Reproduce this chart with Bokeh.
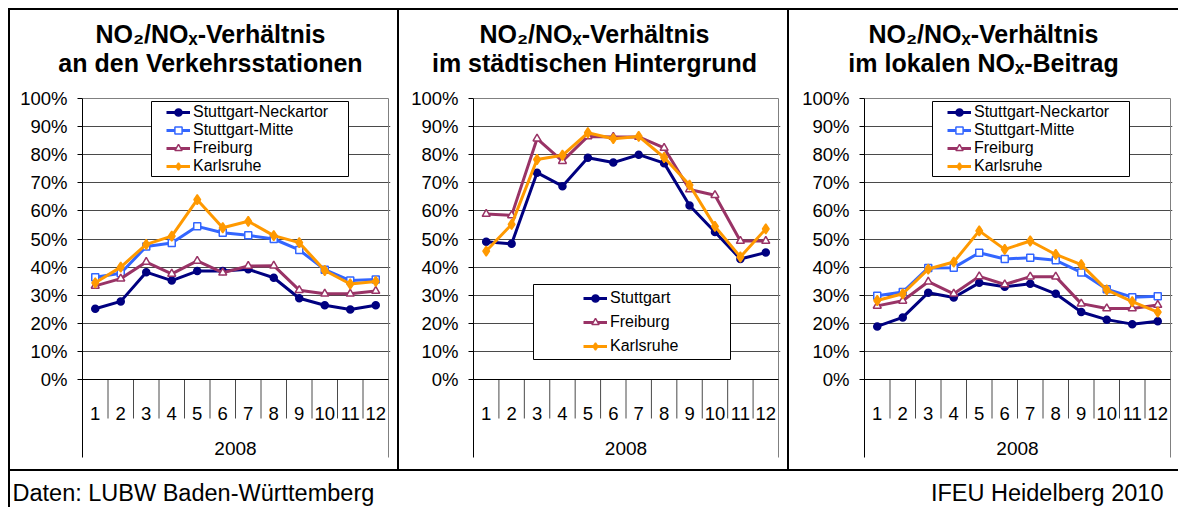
from bokeh.plotting import figure
from bokeh.models import (Range1d, FixedTicker, PrintfTickFormatter, Legend, LegendItem,
                          BoxAnnotation, Div)
from bokeh.layouts import row, column
from bokeh.embed import file_html
from bokeh.resources import INLINE
from bokeh.core.properties import value

# ---------------- data ----------------
months = [1, 2, 3, 4, 5, 6, 7, 8, 9, 10, 11, 12]
month_labels = ["1", "2", "3", "4", "5", "6", "7", "8", "9", "10", "11", "12"]
year_label = "2008"
y_ticks = [0, 10, 20, 30, 40, 50, 60, 70, 80, 90, 100]

# panel 1: traffic stations
traffic_names = ["Stuttgart-Neckartor", "Stuttgart-Mitte", "Freiburg", "Karlsruhe"]
traffic_neckartor = [25.2, 27.8, 38.2, 35.2, 38.6, 38.6, 39.2, 36.2, 28.9, 26.4, 24.9, 26.4]
traffic_mitte = [36.4, 37.8, 47.3, 48.6, 54.5, 52.2, 51.3, 50.0, 46.1, 39.1, 35.2, 35.6]
traffic_freiburg = [33.3, 35.9, 41.8, 37.6, 42.2, 38.0, 40.4, 40.5, 31.8, 30.5, 30.5, 31.5]
traffic_karlsruhe = [34.4, 40.0, 48.1, 51.0, 64.0, 54.0, 56.3, 51.2, 48.7, 38.8, 34.0, 34.9]

# panel 2: urban background
background_names = ["Stuttgart", "Freiburg", "Karlsruhe"]
background_stuttgart = [49.0, 48.3, 73.6, 68.8, 78.9, 77.2, 80.0, 77.0, 61.9, 52.5, 42.9, 45.2]
background_freiburg = [58.9, 58.4, 85.7, 77.7, 86.5, 86.3, 86.3, 82.4, 67.6, 65.6, 49.3, 49.3]
background_karlsruhe = [45.7, 55.2, 78.3, 79.8, 87.8, 85.7, 86.5, 79.0, 69.2, 54.5, 43.6, 53.6]

# panel 3: local NOx contribution
local_names = ["Stuttgart-Neckartor", "Stuttgart-Mitte", "Freiburg", "Karlsruhe"]
local_neckartor = [18.9, 22.1, 30.9, 29.2, 34.4, 33.0, 34.1, 30.5, 24.0, 21.3, 19.7, 20.7]
local_mitte = [29.8, 31.1, 39.7, 39.8, 45.1, 42.9, 43.3, 42.4, 38.1, 32.1, 29.3, 29.6]
local_freiburg = [26.2, 28.0, 34.8, 30.5, 36.7, 33.8, 36.6, 36.6, 27.0, 25.3, 25.3, 26.5]
local_karlsruhe = [28.1, 30.5, 39.3, 41.8, 52.9, 46.3, 49.3, 44.5, 40.9, 31.9, 27.7, 24.0]

title_line1 = "NO\u2082/NO\u2093-Verh\u00e4ltnis"
title_line2 = ["an den Verkehrsstationen", "im st\u00e4dtischen Hintergrund",
               "im lokalen NO\u2093-Beitrag"]
source_text = "Daten: LUBW Baden-W\u00fcrttemberg"
credit_text = "IFEU Heidelberg 2010"

# ---------------- styles ----------------
FONT = "Liberation Sans"
STYLE = {
    "neckartor": dict(color="#000080", marker="circle", size=7, fill="#000080"),
    "mitte": dict(color="#3366FF", marker="square", size=7, fill="white"),
    "freiburg": dict(color="#993366", marker="triangle", size=8, fill="white"),
    "karlsruhe": dict(color="#FF9900", marker="diamond", size=10, fill="#FF9900"),
}
GRID_COLOR = "#4a4a4a"
BORDER_GRAY = "#808080"

# page geometry (pixels, page coordinates)
PANEL_TOP = 10
TITLE_BOTTOM = 86
PANEL_BOTTOM = 469
FRAME_TOP = 96
Y100 = 98
Y0 = 379
FRAME_BOTTOM = 458
SEP_INNER = 418
SEP_OUTER = 457
MONTH_LAB = 413
YEAR_LAB = 448
PX_PER_PCT = (Y0 - Y100) / 100.0
TITLE_MID = [33, 62]
FOOT_TOP = 471
FOOT_MID = 492


def ydat(py):
    return (Y0 - py) / PX_PER_PCT


def strip_figure(w, h):
    f = figure(width=w, height=h, x_range=Range1d(0, w), y_range=Range1d(0, h),
               x_axis_type=None, y_axis_type=None, toolbar_location=None,
               output_backend="svg", min_border=0, min_border_left=0, min_border_right=0,
               min_border_top=0, min_border_bottom=0)
    f.outline_line_color = None
    return f


def make_title(fig_left, width, line2, title_cx):
    th = TITLE_BOTTOM - PANEL_TOP
    t = strip_figure(width, th)
    t.text(x=[title_cx - fig_left] * 2, y=[TITLE_BOTTOM - m for m in TITLE_MID],
           text=[title_line1, line2], text_align="center", text_baseline="middle",
           text_font=value(FONT), text_font_size="25px", text_font_style="bold",
           text_color="black")
    return t


def make_panel(fig_left, width, axis_x, right_x, series,
               box, glyph_left, legend_top, legend_spacing, standoff):
    u = (right_x - axis_x) / 12.0
    frame_left = axis_x
    frame_right = right_x + 2
    x_lo = months[0] - 0.5
    x_hi = months[-1] + 0.5

    def sx(px):
        return px - frame_left

    def sy(py):
        return FRAME_BOTTOM - py

    p = figure(width=width, height=PANEL_BOTTOM - TITLE_BOTTOM,
               x_range=Range1d(x_lo, x_hi + 2.0 / u),
               y_range=Range1d(ydat(FRAME_BOTTOM), 100 + (Y100 - FRAME_TOP) / PX_PER_PCT),
               x_axis_type=None, toolbar_location=None, output_backend="svg",
               min_border_left=frame_left - fig_left,
               min_border_right=fig_left + width - frame_right,
               min_border_top=FRAME_TOP - TITLE_BOTTOM,
               min_border_bottom=PANEL_BOTTOM - FRAME_BOTTOM)
    p.outline_line_color = None
    p.background_fill_color = "white"
    p.border_fill_color = "white"

    p.ygrid.ticker = FixedTicker(ticks=y_ticks[1:-1])
    p.ygrid.grid_line_color = GRID_COLOR
    p.ygrid.grid_line_width = 1

    ax = p.yaxis[0]
    ax.ticker = FixedTicker(ticks=y_ticks)
    ax.formatter = PrintfTickFormatter(format="%d%%")
    ax.bounds = (ydat(SEP_OUTER), y_ticks[-1])
    ax.axis_line_color = "black"
    ax.major_tick_line_color = "black"
    ax.major_tick_out = 5
    ax.major_tick_in = 0
    ax.minor_tick_line_color = None
    ax.major_label_standoff = 10
    ax.major_label_text_font = FONT
    ax.major_label_text_font_size = "18.5px"
    ax.major_label_text_color = "black"

    # plot-area border (top, right), category separators and axis
    p.segment(x0=[x_lo], y0=[y_ticks[-1]], x1=[x_hi], y1=[y_ticks[-1]],
              line_color=BORDER_GRAY, line_width=1)
    p.segment(x0=[x_hi], y0=[ydat(SEP_OUTER)], x1=[x_hi], y1=[y_ticks[-1]],
              line_color=BORDER_GRAY, line_width=1)
    inner = [m + 0.5 for m in months[:-1]]
    p.segment(x0=inner, y0=[0] * len(inner), x1=inner, y1=[ydat(SEP_INNER)] * len(inner),
              line_color=GRID_COLOR, line_width=1)
    p.segment(x0=[x_lo], y0=[y_ticks[0]], x1=[x_hi], y1=[y_ticks[0]],
              line_color="black", line_width=1)

    p.text(x=months, y=[ydat(MONTH_LAB)] * len(months), text=month_labels,
           text_align="center", text_baseline="middle", text_font=value(FONT),
           text_font_size="18.5px", text_color="black")
    p.text(x=[sum(months) / len(months)], y=[ydat(YEAR_LAB)], text=[year_label],
           text_align="center", text_baseline="middle", text_font=value(FONT),
           text_font_size="19px", text_color="black")

    items = []
    for name, vals, key in series:
        st = STYLE[key]
        rl = p.line(months, vals, line_color=st["color"], line_width=3)
        rs = p.scatter(months, vals, marker=st["marker"], size=st["size"],
                       fill_color=st["fill"], line_color=st["color"], line_width=1.5)
        items.append(LegendItem(label=name, renderers=[rl, rs]))

    bx0, bx1, by0, by1 = box
    p.add_layout(BoxAnnotation(left=sx(bx0), right=sx(bx1), top=sy(by0), bottom=sy(by1),
                               left_units="screen", right_units="screen",
                               top_units="screen", bottom_units="screen",
                               fill_color="white", fill_alpha=1.0,
                               line_color="black", line_alpha=1.0, line_width=1))
    row_h = 18
    n = len(items)
    legend_bottom = legend_top + n * row_h + (n - 1) * legend_spacing
    leg = Legend(items=items, location=(sx(glyph_left), sy(legend_bottom)),
                 padding=0, margin=0, spacing=legend_spacing,
                 border_line_color=None, background_fill_alpha=0.0,
                 glyph_width=24, glyph_height=18, label_height=18,
                 label_standoff=standoff, label_text_font=FONT,
                 label_text_font_size="16px", label_text_color="black")
    p.add_layout(leg)
    return p


PANELS = [(10, 387, 82, 388), (399, 388, 473, 778), (789, 389, 864, 1170)]
TITLE_CX = [210, 594, 983]

t1 = make_title(PANELS[0][0], PANELS[0][1], title_line2[0], TITLE_CX[0])
t2 = make_title(PANELS[1][0], PANELS[1][1], title_line2[1], TITLE_CX[1])
t3 = make_title(PANELS[2][0], PANELS[2][1], title_line2[2], TITLE_CX[2])

p1 = make_panel(*PANELS[0],
                [(traffic_names[0], traffic_neckartor, "neckartor"),
                 (traffic_names[1], traffic_mitte, "mitte"),
                 (traffic_names[2], traffic_freiburg, "freiburg"),
                 (traffic_names[3], traffic_karlsruhe, "karlsruhe")],
                (151, 348, 101, 176), 166, 103, 0, 3)
p2 = make_panel(*PANELS[1],
                [(background_names[0], background_stuttgart, "neckartor"),
                 (background_names[1], background_freiburg, "freiburg"),
                 (background_names[2], background_karlsruhe, "karlsruhe")],
                (533, 730, 284, 359), 583, 289, 6, 3)
p3 = make_panel(*PANELS[2],
                [(local_names[0], local_neckartor, "neckartor"),
                 (local_names[1], local_mitte, "mitte"),
                 (local_names[2], local_freiburg, "freiburg"),
                 (local_names[3], local_karlsruhe, "karlsruhe")],
                (932, 1129, 101, 176), 947, 103, 0, 3)

# footer
FOOT_W, FOOT_H = 1168, 507 - FOOT_TOP
foot = strip_figure(FOOT_W, FOOT_H)
foot.text(x=[12 - 10], y=[507 - FOOT_MID], text=[source_text], text_align="left",
          text_baseline="middle", text_font=value(FONT), text_font_size="23.5px",
          text_color="black")
foot.text(x=[1163 - 10], y=[507 - FOOT_MID], text=[credit_text], text_align="right",
          text_baseline="middle", text_font=value(FONT), text_font_size="23.5px",
          text_color="black")

BLACK = {"background-color": "black"}


def bar(w, h):
    return Div(text="", width=w, height=h, margin=0, styles=BLACK)


def gap(w, h):
    return Div(text="", width=w, height=h, margin=0)


TH = TITLE_BOTTOM - PANEL_TOP
CH = PANEL_BOTTOM - TITLE_BOTTOM
box_layout = column(
    bar(1170, 2),
    row(bar(2, TH), t1, bar(2, TH), t2, bar(2, TH), t3, spacing=0),
    row(bar(2, CH), p1, bar(2, CH), p2, bar(2, CH), p3, spacing=0),
    bar(1170, 2),
    row(bar(2, FOOT_H), foot, spacing=0),
    spacing=0,
)
layout = column(gap(1178, 8), row(gap(8, 499), box_layout, spacing=0), spacing=0)

open("out.html", "w").write(file_html(layout, INLINE))
